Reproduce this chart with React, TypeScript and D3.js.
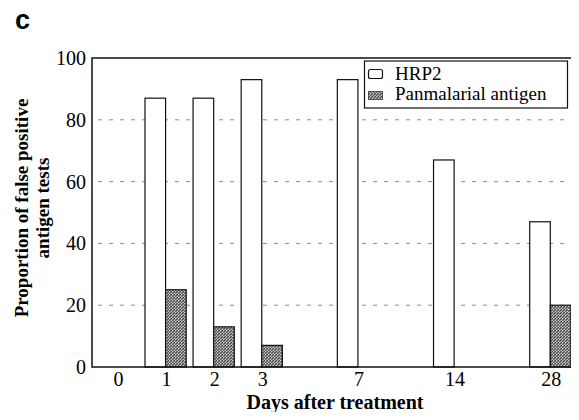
import React from "react";
import * as d3 from "d3";

// days after treatment (x categories)
const days = ["0", "1", "2", "3", "7", "14", "28"];
// slots on the axis, gaps make room between 3/7/14/28
const slots = ["0", "1", "2", "3", "g1", "7", "g2", "14", "g3", "28"];
const hrp2 = [0, 87, 87, 93, 93, 67, 47];
const panmalarial = [0, 25, 13, 7, 0, 0, 20];
const yTicks = [0, 20, 40, 60, 80, 100];
const seriesNames = ["HRP2", "Panmalarial antigen"];

const W = 579;
const H = 420;
const margin = { top: 58, right: 4, bottom: 53, left: 92 };
const serif = "'Liberation Serif', 'Times New Roman', serif";

const App = () => {
  const x0 = margin.left;
  const x1 = W - margin.right;
  const y0 = H - margin.bottom;
  const y1 = margin.top;

  const x = d3.scalePoint<string>().domain(slots).range([117.5, 550.3]);
  const barW = 20.6;
  const y = d3.scaleLinear().domain([0, 100]).range([y0, y1]);

  return (
    <svg width={W} height={H} style={{ display: "block", margin: "-8px" }}>
      <defs>
        <pattern id="stip" width="3" height="3" patternUnits="userSpaceOnUse">
          <rect width="3" height="3" fill="#8c8c8c" />
          <rect x="0" y="0" width="1" height="1" fill="#3a3a3a" />
          <rect x="2" y="1" width="1" height="1" fill="#4a4a4a" />
          <rect x="1" y="2" width="1" height="1" fill="#5a5a5a" />
          <rect x="1" y="0" width="1" height="1" fill="#cfcfcf" />
          <rect x="0" y="2" width="1" height="1" fill="#c4c4c4" />
        </pattern>
      </defs>
      <rect width={W} height={H} fill="#fff" />

      <text x={15} y={29} fontFamily="'Liberation Sans', Arial, sans-serif" fontWeight="bold" fontSize={27}>
        c
      </text>

      {/* gridlines */}
      {yTicks
        .filter((t) => t > 0 && t < 100)
        .map((t) => (
          <line
            key={t}
            x1={x0 + 6}
            x2={x1 - 2}
            y1={y(t)}
            y2={y(t)}
            stroke="#8c8c8c"
            strokeWidth={1}
            strokeDasharray="4,7"
          />
        ))}

      {/* bars */}
      {days.map((d, i) => (
        <g key={d}>
          {hrp2[i] > 0 && (
            <rect
              x={x(d)! - barW}
              y={y(hrp2[i])}
              width={barW}
              height={y0 - y(hrp2[i])}
              fill="#fff"
              stroke="#111"
              strokeWidth={1.2}
            />
          )}
          {panmalarial[i] > 0 && (
            <rect
              x={x(d)!}
              y={y(panmalarial[i])}
              width={barW}
              height={y0 - y(panmalarial[i])}
              fill="url(#stip)"
              stroke="#111"
              strokeWidth={1.2}
            />
          )}
        </g>
      ))}

      {/* frame */}
      <rect x={x0} y={y1} width={x1 - x0} height={y0 - y1} fill="none" stroke="#111" strokeWidth={1.5} />

      {/* y tick labels */}
      {yTicks.map((t) => (
        <text key={t} x={x0 - 6} y={y(t) + 7} textAnchor="end" fontFamily={serif} fontSize={20}>
          {t}
        </text>
      ))}

      {/* x tick labels */}
      {days.map((d) => (
        <text key={d} x={x(d)! + 1} y={386} textAnchor="middle" fontFamily={serif} fontSize={20}>
          {d}
        </text>
      ))}

      <text x={335} y={409} textAnchor="middle" fontFamily={serif} fontWeight="bold" fontSize={20}>
        Days after treatment
      </text>

      <g transform="translate(28,208) rotate(-90)" fontFamily={serif} fontWeight="bold" fontSize={19}>
        <text x={0} y={0} textAnchor="middle">
          Proportion of false positive
        </text>
        <text x={0} y={21} textAnchor="middle">
          antigen tests
        </text>
      </g>

      {/* legend */}
      <rect x={364.5} y={61} width={203} height={47} fill="#fff" stroke="#111" strokeWidth={1.2} />
      <rect x={368.5} y={69.5} width={14} height={9} rx={2} fill="#fff" stroke="#111" strokeWidth={1.2} />
      <rect x={368.5} y={91.5} width={14} height={8} fill="url(#stip)" stroke="#333" strokeWidth={0.8} />
      <text x={395} y={80} fontFamily={serif} fontSize={19}>
        {seriesNames[0]}
      </text>
      <text x={395} y={100} fontFamily={serif} fontSize={19}>
        {seriesNames[1]}
      </text>
    </svg>
  );
};

export default App;
